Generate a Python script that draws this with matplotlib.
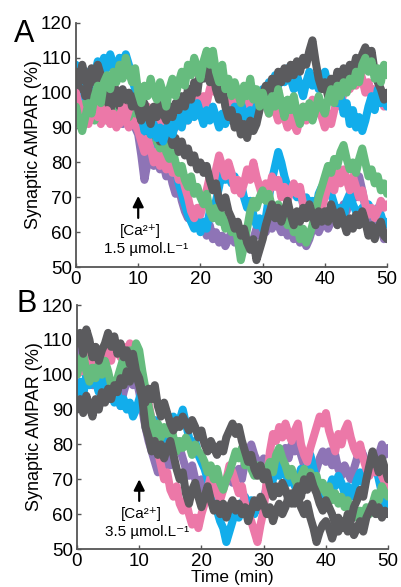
import numpy as np
import matplotlib
matplotlib.use("Agg")
import matplotlib.pyplot as plt

plt.rcParams['font.family'] = ['Liberation Sans', 'DejaVu Sans']

# time axis, 0.5 min steps
t = np.arange(0, 50.5, 0.5)

# ---- panel A: 1.5 umol/L ----
gn_up_a = [96, 92, 89, 93, 97, 94, 99, 102, 97, 103,
           105, 101, 106, 103, 108, 104, 110, 106, 103, 107,
           100, 97, 102, 99, 104, 100, 98, 103, 100, 96,
           101, 104, 99, 103, 106, 102, 108, 105, 110, 107,
           104, 109, 112, 108, 112, 106, 103, 108, 101, 104,
           99, 103, 100, 97, 102, 99, 104, 98, 101, 96,
           100, 97, 94, 99, 96, 101, 97, 93, 98, 95,
           99, 94, 91, 96, 93, 97, 92, 95, 99, 96,
           94, 98, 101, 97, 102, 99, 103, 100, 104, 102,
           106, 103, 108, 110, 106, 109, 104, 107, 103, 108,
           105]
gr_up_a = [106, 103, 108, 104, 101, 107, 103, 108, 105, 101,
           104, 99, 103, 100, 97, 101, 98, 100, 96, 99,
           95, 92, 97, 94, 91, 96, 93, 98, 94, 92,
           96, 93, 97, 95, 99, 96, 101, 98, 103, 100,
           107, 104, 108, 103, 106, 101, 98, 102, 96, 93,
           95, 90, 93, 88, 91, 87, 92, 89, 91, 95,
           99, 102, 98, 104, 101, 106, 103, 107, 104, 108,
           105, 109, 106, 110, 108, 112, 115, 109, 104, 101,
           103, 99, 104, 101, 106, 103, 107, 104, 108, 106,
           110, 107, 111, 113, 109, 112, 106, 103, 101, 98,
           100]
bl_up_a = [108, 104, 107, 103, 106, 102, 105, 109, 106, 110,
           107, 111, 108, 106, 110, 107, 111, 108, 104, 101,
           98, 94, 89, 92, 88, 91, 87, 90, 86, 89,
           92, 88, 91, 94, 90, 95, 92, 96, 93, 97,
           94, 91, 95, 92, 96, 93, 90, 94, 91, 95,
           92, 96, 93, 97, 94, 91, 95, 92, 96, 98,
           101, 97, 103, 100, 105, 102, 106, 103, 107, 104,
           101, 105, 102, 99, 103, 106, 102, 105, 101, 104,
           106, 102, 99, 103, 97, 100, 94, 97, 91, 95,
           90, 93, 89, 92, 96, 99, 95, 101, 97, 99,
           96]
pk_up_a = [100, 96, 92, 95, 91, 94, 97, 93, 96, 92,
           95, 91, 94, 90, 93, 96, 92, 95, 98, 96,
           99, 95, 92, 96, 93, 90, 94, 91, 95, 92,
           96, 93, 90, 94, 91, 95, 92, 96, 94, 98,
           95, 99, 97, 101, 104, 100, 107, 103, 99, 102,
           98, 95, 99, 96, 93, 97, 94, 98, 95, 97,
           100, 97, 94, 98, 95, 92, 96, 93, 90, 94,
           91, 89, 93, 96, 92, 95, 98, 94, 97, 93,
           90, 94, 91, 95, 98, 96, 100, 103, 101, 105,
           102, 107, 104, 100, 103, 99, 101, 97, 100, 96,
           97]
pu_lo_a = [97, 94, 98, 95, 92, 96, 93, 95, 92, 94,
           96, 93, 95, 92, 94, 91, 93, 95, 92, 90,
           88, 82, 75, 80, 84, 79, 82, 78, 80, 76,
           78, 74, 71, 73, 69, 66, 64, 67, 62, 64,
           61, 63, 59, 62, 58, 60, 57, 59, 56, 58,
           60, 57, 59, 61, 56, 58, 55, 58, 61, 59,
           62, 60, 64, 61, 65, 62, 60, 63, 59, 61,
           58, 61, 57, 59, 56, 58, 61, 63, 60, 62,
           64, 61, 63, 66, 63, 65, 68, 66, 70, 73,
           70, 76, 72, 67, 64, 61, 63, 60, 62, 58,
           60]
pk_lo_a = [94, 97, 93, 96, 92, 95, 98, 94, 91, 95,
           92, 96, 93, 95, 91, 94, 92, 90, 93, 91,
           89, 86, 83, 87, 84, 80, 83, 79, 82, 78,
           81, 77, 79, 75, 77, 73, 70, 66, 64, 67,
           65, 69, 72, 76, 73, 78, 82, 79, 76, 80,
           77, 72, 75, 71, 74, 78, 75, 80, 76, 73,
           70, 74, 71, 76, 73, 75, 70, 73, 69, 72,
           74, 71, 73, 68, 65, 67, 64, 66, 69, 67,
           70, 73, 75, 72, 77, 74, 78, 75, 72, 76,
           73, 70, 72, 68, 65, 67, 64, 66, 69, 67,
           68]
bl_lo_a = [101, 98, 103, 100, 97, 101, 99, 96, 100, 98,
           95, 98, 96, 99, 97, 94, 97, 95, 98, 96,
           93, 90, 88, 91, 87, 85, 88, 84, 86, 82,
           80, 77, 79, 74, 71, 68, 65, 63, 61, 64,
           60, 63, 61, 66, 64, 69, 73, 78, 75, 77,
           74, 76, 72, 74, 70, 67, 69, 65, 62, 64,
           61, 64, 70, 75, 79, 83, 80, 76, 73, 71,
           73, 70, 72, 68, 70, 67, 69, 66, 71, 73,
           72, 75, 71, 68, 65, 67, 64, 69, 71, 68,
           66, 64, 67, 65, 68, 66, 64, 67, 65, 62,
           63]
gn_lo_a = [95, 91, 94, 97, 93, 96, 92, 95, 98, 94,
           92, 96, 93, 97, 94, 98, 95, 93, 97, 94,
           96, 93, 90, 92, 88, 91, 86, 84, 87, 83,
           81, 84, 80, 77, 79, 75, 73, 76, 71, 73,
           70, 68, 71, 66, 64, 67, 63, 65, 61, 63,
           60, 62, 58, 52, 56, 61, 66, 69, 67, 70,
           72, 69, 71, 67, 65, 68, 64, 66, 62, 64,
           60, 62, 58, 61, 57, 59, 62, 66, 70, 73,
           76, 79, 77, 81, 79, 83, 85, 81, 78, 80,
           77, 81, 84, 80, 76, 78, 74, 76, 72, 74,
           71]
gr_lo_a = [105, 101, 104, 99, 102, 98, 101, 97, 100, 96,
           99, 95, 98, 100, 96, 99, 95, 98, 96, 99,
           96, 92, 95, 89, 92, 88, 90, 86, 89, 92,
           88, 85, 87, 83, 86, 82, 84, 80, 82, 78,
           80, 77, 79, 75, 72, 74, 69, 67, 70, 66,
           64, 61, 63, 59, 61, 57, 55, 58, 52, 55,
           58, 62, 65, 68, 64, 67, 63, 66, 69, 65,
           62, 66, 63, 67, 64, 68, 65, 62, 66, 63,
           66, 63, 68, 65, 62, 66, 63, 60, 64, 61,
           65, 62, 66, 63, 59, 62, 58, 61, 63, 59,
           58]

# ---- panel B: 3.5 umol/L ----
gr1_b = [109, 112, 106, 113, 110, 105, 108, 104, 107, 109,
         112, 108, 111, 106, 109, 105, 107, 103, 106, 101,
         99, 95, 92, 96, 93, 97, 91, 88, 92, 89,
         86, 84, 87, 85, 88, 86, 84, 87, 85, 82,
         84, 80, 78, 81, 79, 77, 80, 78, 82, 84,
         86, 83, 85, 81, 78, 75, 77, 73, 71, 74,
         70, 72, 68, 65, 68, 66, 69, 67, 64, 66,
         63, 65, 62, 60, 63, 59, 56, 52, 55, 57,
         58, 56, 53, 56, 55, 58, 56, 60, 58, 62,
         64, 67, 65, 70, 74, 78, 75, 72, 76, 73,
         70]
gr2_b = [90, 93, 89, 94, 91, 88, 93, 90, 95, 92,
         96, 93, 97, 95, 99, 97, 101, 98, 103, 100,
         97, 93, 85, 82, 78, 81, 77, 80, 76, 79,
         81, 77, 73, 70, 72, 66, 63, 67, 69, 65,
         62, 65, 68, 64, 61, 63, 60, 63, 59, 62,
         64, 61, 63, 60, 62, 58, 61, 64, 62, 65,
         63, 60, 62, 58, 61, 63, 60, 62, 65, 63,
         66, 68, 65, 70, 67, 71, 68, 66, 63, 61,
         64, 62, 60, 57, 59, 56, 58, 55, 57, 54,
         56, 58, 55, 59, 61, 63, 60, 62, 59, 61,
         60]
pk_b = [100, 104, 101, 107, 104, 108, 103, 106, 102, 105,
        108, 104, 110, 107, 105, 108, 104, 109, 106, 102,
        100, 97, 95, 92, 87, 82, 78, 74, 70, 72,
        67, 65, 68, 63, 61, 64, 60, 57, 59, 56,
        60, 63, 67, 71, 68, 66, 64, 67, 70, 74,
        72, 69, 66, 68, 63, 60, 58, 55, 52, 57,
        61, 70, 78, 83, 81, 85, 82, 86, 83, 81,
        84, 86, 80, 77, 75, 79, 82, 85, 88, 86,
        89, 84, 81, 78, 83, 80, 84, 86, 82, 79,
        77, 80, 76, 73, 71, 74, 72, 75, 71, 69,
        68]
pu_b = [104, 107, 110, 104, 100, 97, 101, 98, 95, 99,
        96, 93, 97, 94, 91, 95, 98, 101, 97, 99,
        95, 90, 85, 81, 78, 75, 72, 75, 73, 76,
        74, 78, 81, 79, 76, 73, 71, 74, 70, 68,
        70, 67, 69, 66, 64, 67, 65, 68, 70, 72,
        69, 71, 73, 70, 75, 78, 80, 77, 75, 73,
        76, 74, 71, 73, 76, 74, 77, 79, 76, 80,
        78, 81, 77, 74, 71, 68, 70, 73, 76, 78,
        75, 78, 74, 77, 73, 71, 74, 72, 70, 73,
        76, 79, 77, 74, 72, 76, 73, 77, 80, 77,
        79]
bl_b = [95, 98, 94, 100, 97, 102, 98, 95, 99, 96,
        93, 96, 92, 95, 91, 93, 90, 92, 88, 90,
        93, 96, 92, 88, 85, 87, 83, 80, 84, 82,
        86, 88, 85, 87, 90, 86, 82, 79, 81, 77,
        75, 73, 70, 67, 64, 61, 58, 56, 52, 55,
        58, 61, 59, 63, 65, 62, 64, 60, 63, 61,
        64, 68, 66, 70, 73, 71, 75, 72, 69, 71,
        68, 70, 73, 71, 74, 77, 73, 70, 68, 66,
        64, 67, 70, 68, 71, 69, 66, 68, 65, 67,
        70, 72, 69, 73, 75, 72, 74, 70, 66, 63,
        61]
gn_b = [100, 104, 106, 101, 98, 102, 99, 103, 100, 104,
        101, 97, 95, 99, 102, 105, 102, 107, 104, 109,
        107, 101, 96, 91, 87, 83, 86, 82, 85, 83,
        86, 82, 78, 81, 79, 82, 80, 77, 80, 78,
        77, 75, 72, 74, 70, 73, 69, 67, 70, 72,
        75, 78, 76, 79, 74, 77, 73, 71, 74, 72,
        70, 73, 75, 72, 77, 79, 76, 74, 71, 73,
        70, 68, 71, 73, 70, 72, 69, 71, 67, 69,
        66, 68, 64, 66, 63, 65, 62, 64, 60, 62,
        59, 61, 58, 62, 60, 63, 66, 64, 68, 66,
        65]

PINK = '#EC78A8'
BLUE = '#12ADEB'
PURPLE = '#8E74B6'
GREEN = '#66BC7E'
GRAY = '#5B5B5E'

traces_a = [(pu_lo_a, PURPLE), (bl_lo_a, BLUE), (pk_lo_a, PINK), (gn_lo_a, GREEN),
            (gr_lo_a, GRAY), (pk_up_a, PINK), (bl_up_a, BLUE), (gr_up_a, GRAY),
            (gn_up_a, GREEN)]
traces_b = [(pu_b, PURPLE), (bl_b, BLUE), (pk_b, PINK), (gn_b, GREEN),
            (gr1_b, GRAY), (gr2_b, GRAY)]

fig = plt.figure(figsize=(4.02, 5.87), dpi=100)
ax_a = fig.add_axes([0.189, 0.545, 0.774, 0.416])
ax_b = fig.add_axes([0.1915, 0.0647, 0.774, 0.4157])


def style_axis(ax, traces, conc, arrow_y):
    for vals, col in traces:
        ax.plot(t, vals, color=col, lw=5.8, solid_capstyle='round',
                solid_joinstyle='round')
    ax.set_xlim(0, 50)
    ax.set_ylim(50, 120)
    ax.set_xticks([0, 10, 20, 30, 40, 50])
    ax.set_yticks([50, 60, 70, 80, 90, 100, 110, 120])
    for s in ['top', 'right']:
        ax.spines[s].set_visible(False)
    for s in ['left', 'bottom']:
        ax.spines[s].set_color('#555555')
        ax.spines[s].set_linewidth(1.3)
    ax.tick_params(direction='in', length=3, width=1, color='#555555',
                   labelsize=13.5)
    ax.tick_params(axis='y', pad=3)
    ax.tick_params(axis='x', pad=3)
    ax.set_ylabel('Synaptic AMPAR (%)', fontsize=13, labelpad=-1)
    ax.annotate('', xy=(10, arrow_y[1]), xytext=(10, arrow_y[0]),
                arrowprops=dict(arrowstyle='-|>', color='black', lw=1.6,
                                mutation_scale=16))
    ax.text(10.4, arrow_y[0] - 3.0, '[Ca²⁺]', ha='center', va='center', fontsize=11)
    ax.text(11.2, arrow_y[0] - 8.2, conc + ' µmol.L⁻¹',
            ha='center', va='center', fontsize=11)


style_axis(ax_a, traces_a, '1.5', (63.3, 71.2))
style_axis(ax_b, traces_b, '3.5', (63.0, 70.8))
ax_b.set_xlabel('Time (min)', fontsize=12.5, labelpad=0)

fig.text(0.035, 0.968, 'A', fontsize=22, va='top', ha='left')
fig.text(0.040, 0.508, 'B', fontsize=22, va='top', ha='left')

fig.savefig('out.png', dpi=100)
